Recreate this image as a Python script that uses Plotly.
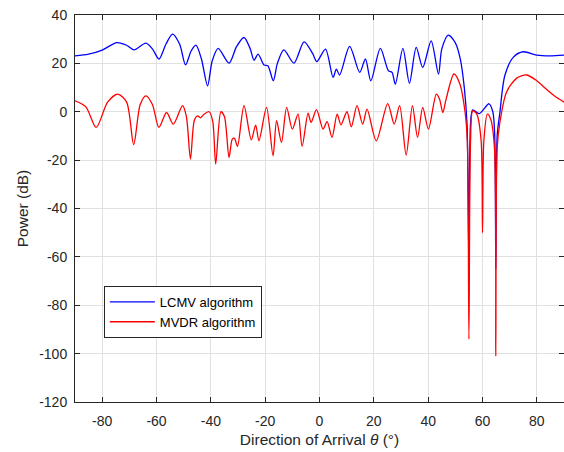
import plotly.graph_objects as go

# LCMV (blue) beampattern, angle (deg) and power (dB)
lcmv_theta = [-90, -85, -80, -74.6, -71, -68.3, -63.9, -61.5, -59.1, -56.5, -54.1, -51.5, -49.3,
              -47.3, -45.5, -43.5, -41.2, -39.5, -37.3, -33.3, -30.5, -27.8, -25.5, -24.1, -22.6,
              -20.4, -19.0, -17.0, -15.5, -13.1, -9.4, -5.7, -2.5, -1.0, 2.2, 5.0, 6.2, 7.4, 11.1,
              14.8, 16.9, 18.9, 22.4, 25.4, 26.7, 27.9, 30.7, 33.1, 35.6, 38.0, 41.1, 43.8, 45.0,
              47.4, 50.0, 51.8, 53.3, 54.3, 55.0, 55.6, 56.4, 58.8, 62.4, 63.8, 64.5, 64.9, 65.4,
              66.4, 68.2, 71.3, 75.0, 79.9, 84.8, 90]
lcmv_db = [23.1, 23.8, 25.5, 28.6, 27.5, 25.6, 28.4, 26.0, 21.8, 28.0, 32.1, 28.0, 19.4,
           25.0, 27.5, 22.0, 10.7, 21.0, 26.2, 20.1, 27.0, 30.7, 26.0, 21.3, 23.8,
           19.3, 19.0, 12.8, 20.0, 25.6, 20.1, 28.9, 24.0, 20.7, 25.9, 14.2, 17.6, 15.2, 27.0,
           16.3, 21.8, 12.8, 26.2, 16.9, 16.3, 11.4, 26.2, 11.8, 26.6, 18.3, 29.3, 15.6, 25.9,
           31.7, 28.5, 22.0, 10.0, -5.0, -62.0, -5.0, 0.8, -0.8, 3.3, 0.0, -10.0, -65.0, -10.0,
           -0.3, 14.9, 22.5, 24.8, 23.4, 23.1, 23.4]

# MVDR (red) beampattern
mvdr_theta = [-90, -86, -82.2, -78, -74.3, -71, -68.4, -66, -63.9, -61.5, -59.1, -56.3, -53.8,
              -50.4, -49, -47.5, -46.1, -44.9, -43.8, -42.5, -40.6, -39.3, -38.2, -36.3, -35,
              -33.3, -32.1, -31.3, -30.2, -27.8, -25.1, -23.5, -22.3, -19.5, -17.1, -15.8, -14.0,
              -12.1, -10.0, -7.9, -6.4, -4.2, -3.1, -1.1, 1.3, 2.8, 4.6, 6.5, 7.9, 10.1, 11.7,
              13.8, 15.9, 17.5, 20.9, 25.1, 27.5, 29.5, 31.9, 34.2, 36.1, 38.0, 40.1, 43.0, 44.2,
              45.4, 46.6, 49.5, 51.7, 53.6, 54.4, 55.0, 55.6, 56.4, 57.9, 59.5, 60.0, 60.5, 61.8,
              63.0, 64.4, 64.9, 65.4, 66.4, 68.8, 72.5, 76.2, 79.5, 83.0, 86.5, 90]
mvdr_db = [4.5, 2.0, -6.5, 4.0, 7.3, 4.0, -13.6, 3.0, 6.6, 3.0, -6.5, -0.3, -5.1,
           2.5, -2.0, -19.6, -3.7, -1.7, -2.5, -1.0, 0.0, -4.0, -21.6, 0.0, -2.0,
           -18.9, -11.3, -11.0, -14.3, 2.5, -11.6, -5.5, -12.0, 1.8, -18.2, -3.7, -12.7,
           1.8, -7.2, -1.0, -14.3, -0.6, -4.4, 0.9, -7.2, -4.1, -10.6, -1.0, -5.4, 0.0, -6.2,
           2.5, -5.1, 1.1, -12.0, 3.4, -5.1, 2.5, -17.9, 2.5, -10.6, 1.8, -7.2, 7.3, 5.2,
           -0.3, 5.2, 15.6, 11.4, -0.3, -12.0, -94.0, -12.0, 0.4, -1.0, -12.0, -50.0, -12.0, -1.0,
           -3.0, -15.0, -101.0, -15.0, -4.4, 8.0, 13.8, 15.2, 13.2, 9.8, 6.5, 4.0]

x_ticks = [-80, -60, -40, -20, 0, 20, 40, 60, 80]
y_ticks = [40, 20, 0, -20, -40, -60, -80, -100, -120]

FONT = "Liberation Sans, Arial, sans-serif"
AX = "#262626"

fig = go.Figure()
fig.add_trace(go.Scatter(x=lcmv_theta, y=lcmv_db, mode="lines", name="LCMV algorithm",
                         line=dict(color="#0000FF", width=1.3, shape="spline", smoothing=0.8)))
fig.add_trace(go.Scatter(x=mvdr_theta, y=mvdr_db, mode="lines", name="MVDR algorithm",
                         line=dict(color="#FF0000", width=1.3, shape="spline", smoothing=0.8)))

axis_common = dict(showline=True, linecolor=AX, linewidth=1, mirror="ticks",
                   ticks="inside", ticklen=5, tickcolor=AX, showgrid=True,
                   gridcolor="#e0e0e0", gridwidth=1, zeroline=False,
                   tickfont=dict(family=FONT, size=14, color=AX))

fig.update_xaxes(range=[-90, 90], tickvals=x_ticks, ticktext=[str(v) for v in x_ticks],
                 ticklabelstandoff=6,
                 title=dict(text="Direction of Arrival <i>θ</i> (°)",
                            font=dict(family=FONT, size=15.5, color=AX), standoff=6),
                 **axis_common)
fig.update_yaxes(range=[-120, 40], tickvals=y_ticks, ticktext=[str(v) for v in y_ticks],
                 ticklabelstandoff=4,
                 title=dict(text="Power (dB)", font=dict(family=FONT, size=15.5, color=AX),
                            standoff=6),
                 **axis_common)

fig.update_layout(
    width=564, height=452,
    margin=dict(l=75, r=0, t=15, b=50),
    paper_bgcolor="white", plot_bgcolor="white",
    showlegend=True,
    legend=dict(x=0.059, y=0.30, xanchor="left", yanchor="top",
                bgcolor="white", bordercolor=AX, borderwidth=1,
                font=dict(family=FONT, size=13, color="black"),
                itemwidth=45, tracegroupgap=0),
)

fig.write_html("out.html")
